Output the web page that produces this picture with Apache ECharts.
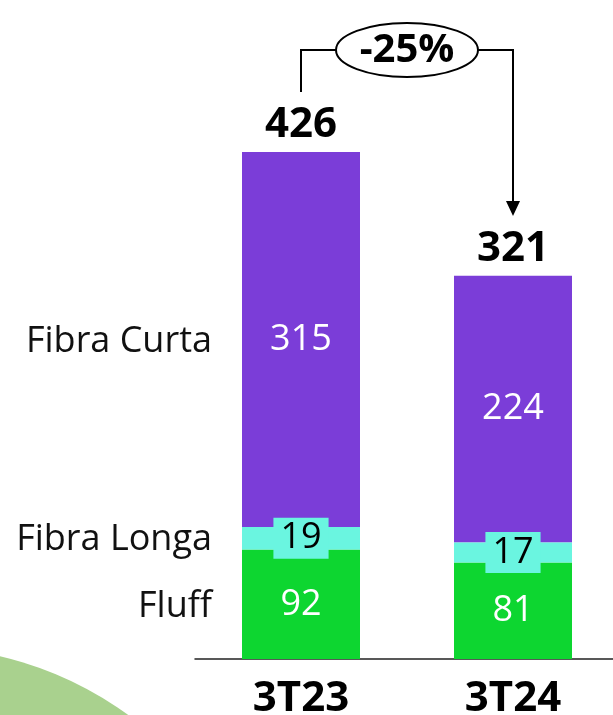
<!DOCTYPE html>
<html>
<head>
<meta charset="utf-8">
<script src="https://cdn.jsdelivr.net/npm/echarts@6/dist/echarts.min.js"></script>
<style>
html, body { margin: 0; padding: 0; background: #fff; }
#chart { width: 613px; height: 715px; }
</style>
</head>
<body>
<div id="chart"></div>
<script>
var quarters = ['3T23', '3T24'];
var fluff = [92, 81];
var fibraLonga = [19, 17];
var fibraCurta = [315, 224];
var totals = [426, 321];
var seriesNames = ['Fluff', 'Fibra Longa', 'Fibra Curta'];
var changeLabel = '-25%';

var FONT = '"Open Sans", "Noto Sans", sans-serif';

var chart = echarts.init(document.getElementById('chart'));

function valueLabel(color, bg) {
    var l = {
        show: true,
        position: 'inside',
        color: color,
        fontFamily: FONT,
        fontSize: 36
    };
    if (bg) {
        l.backgroundColor = bg;
        l.padding = [2, 7, 1, 7];
        l.lineHeight = 38;
    }
    return l;
}

chart.setOption({
    animation: false,
    grid: {
        left: 195, width: 424, top: 64, bottom: 56,
        containLabel: false, outerBoundsMode: 'none'
    },
    xAxis: {
        type: 'category',
        data: quarters,
        axisLine: { lineStyle: { color: '#222', width: 1.5 } },
        axisTick: { show: false },
        axisLabel: {
            color: '#000', fontFamily: FONT, fontWeight: 'bold',
            fontSize: 42, margin: 19
        }
    },
    yAxis: {
        type: 'value', min: 0, max: 500,
        show: false, splitLine: { show: false }
    },
    series: [
        {
            name: seriesNames[0], type: 'bar', stack: 'vol', barWidth: 118,
            itemStyle: { color: '#0dd630' },
            label: valueLabel('#fff'),
            data: fluff
        },
        {
            name: seriesNames[1], type: 'bar', stack: 'vol', barWidth: 118,
            itemStyle: { color: '#6af5e0' },
            label: valueLabel('#000', '#6af5e0'),
            z: 3,
            data: fibraLonga
        },
        {
            name: seriesNames[2], type: 'bar', stack: 'vol', barWidth: 118,
            itemStyle: { color: '#7b3dd8' },
            label: valueLabel('#fff'),
            data: fibraCurta
        },
        {
            // zero-height segment on top of the stack, carries the total
            name: 'total', type: 'bar', stack: 'vol', barWidth: 118,
            itemStyle: { color: 'transparent' },
            label: {
                show: true, position: 'top', distance: 6,
                color: '#000', fontFamily: FONT, fontWeight: 'bold', fontSize: 42,
                formatter: function (p) { return totals[p.dataIndex]; }
            },
            data: quarters.map(function () { return 0; })
        }
    ]
});

// side labels and the change annotation
var c0 = chart.convertToPixel({ xAxisIndex: 0 }, quarters[0]);
var c1 = chart.convertToPixel({ xAxisIndex: 0 }, quarters[1]);
function yPix(v) { return chart.convertToPixel({ yAxisIndex: 0 }, v); }

var mids = [
    fluff[0] / 2,
    fluff[0] + fibraLonga[0] / 2,
    fluff[0] + fibraLonga[0] + fibraCurta[0] / 2
];
var labelRight = c0 - 59 - 30;

var graphics = [
    {
        type: 'circle', silent: true, z: -10,
        shape: { cx: -81, cy: 1003, r: 356 },
        style: { fill: '#a9d18e' }
    }
];

seriesNames.forEach(function (name, i) {
    graphics.push({
        type: 'text',
        style: {
            text: name, x: labelRight, y: yPix(mids[i]) + 2,
            align: 'right', verticalAlign: 'middle',
            font: '36px ' + FONT, fill: '#111'
        }
    });
});

var ex = (c0 + c1) / 2, ey = 50, rx = 71, ry = 27;
graphics.push(
    {
        type: 'polyline',
        shape: { points: [[c0, 92], [c0, ey], [ex - rx, ey]] },
        style: { stroke: '#000', lineWidth: 2, fill: null }
    },
    {
        type: 'polyline',
        shape: { points: [[ex + rx, ey], [c1, ey], [c1, 203]] },
        style: { stroke: '#000', lineWidth: 2, fill: null }
    },
    {
        type: 'polygon',
        shape: { points: [[c1 - 7, 201], [c1 + 7, 201], [c1, 216]] },
        style: { fill: '#000' }
    },
    {
        type: 'ellipse',
        shape: { cx: ex, cy: ey, rx: rx, ry: ry },
        style: { fill: '#fff', stroke: '#000', lineWidth: 2 }
    },
    {
        type: 'text', z: 10,
        style: {
            text: changeLabel, x: ex, y: ey + 1,
            align: 'center', verticalAlign: 'middle',
            font: 'bold 40px ' + FONT, fill: '#000'
        }
    }
);

chart.setOption({ graphic: graphics });
</script>
</body>
</html>
